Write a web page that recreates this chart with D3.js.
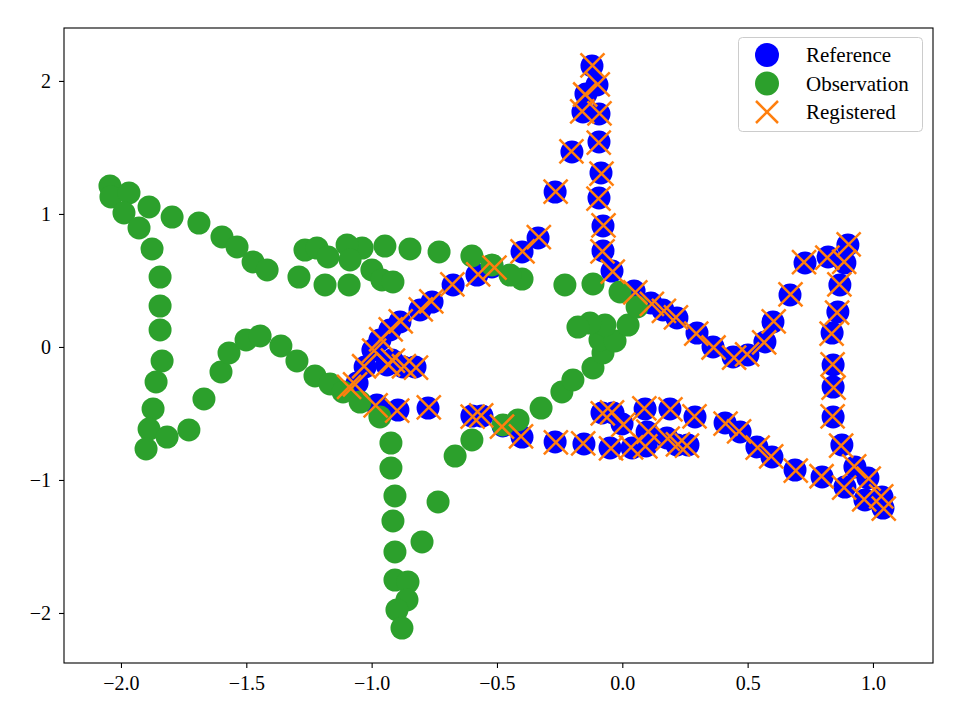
<!DOCTYPE html>
<html lang="en">
  <head>
    <meta charset="utf-8">
    <style>
      body { margin: 0; background: #fff; }
      text { font-family: "Liberation Serif", serif; fill: #000; }
    </style>
  </head>
  <body>
    <svg id="container" width="961" height="721"></svg>
  </body>
  <script src="https://d3js.org/d3.v7.min.js"></script>
  <script>
// reference fish (blue)
let refX = [-0.121, -0.101, -0.145, -0.157, -0.093, -0.093, -0.201, -0.085, -0.268, -0.093,
  -0.077, -0.077, -0.041, 0.047, 0.114, 0.162, 0.218, 0.298, 0.362, 0.442,
  0.501, 0.569, 0.601, 0.669, 0.729, 0.821, 0.900, 0.888, 0.868, 0.860,
  0.837, 0.841, 0.841, 0.841, 0.876, 0.928, 0.980, 1.036, 1.040, 0.968,
  0.888, 0.797, 0.689, 0.597, 0.537, 0.470, 0.410, 0.290, 0.190, 0.091,
  -0.001, -0.037, -0.081, 0.262, 0.218, 0.178, 0.099, 0.095, 0.039, -0.049,
  -0.153, -0.268, -0.400, -0.476, -0.560, -0.600, -0.775, -0.895, -0.979, -1.074,
  -1.058, -1.026, -0.939, -0.875, -0.827, -0.995, -0.967, -0.927, -0.887, -0.807,
  -0.759, -0.675, -0.580, -0.520, -0.400, -0.336, -0.919]
let refY = [2.113, 1.970, 1.902, 1.767, 1.752, 1.541, 1.466, 1.308, 1.165, 1.120,
  0.910, 0.722, 0.571, 0.421, 0.331, 0.278, 0.218, 0.105, 0.000, -0.075,
  -0.060, 0.038, 0.188, 0.391, 0.632, 0.677, 0.767, 0.632, 0.466, 0.263,
  0.105, -0.135, -0.301, -0.526, -0.737, -0.902, -0.985, -1.128, -1.211, -1.150,
  -1.053, -0.977, -0.925, -0.827, -0.752, -0.639, -0.571, -0.526, -0.466, -0.466,
  -0.579, -0.496, -0.496, -0.737, -0.737, -0.684, -0.639, -0.744, -0.759, -0.759,
  -0.729, -0.714, -0.677, -0.594, -0.519, -0.519, -0.459, -0.474, -0.436, -0.323,
  -0.271, -0.150, -0.135, -0.150, -0.150, -0.023, 0.053, 0.128, 0.188, 0.278,
  0.338, 0.466, 0.541, 0.602, 0.714, 0.820, -0.098]

// observed fish (green)
let obsX = [-2.044, -2.040, -1.968, -1.988, -1.888, -1.928, -1.796, -1.689, -1.597, -1.537,
  -1.473, -1.417, -1.876, -1.844, -1.844, -1.844, -1.836, -1.860, -1.872, -1.888,
  -1.900, -1.816, -1.729, -1.669, -1.601, -1.569, -1.501, -1.445, -1.362, -1.298,
  -1.226, -1.166, -1.114, -1.046, -0.967, -0.923, -0.923, -0.907, -0.915, -0.907,
  -0.907, -0.855, -0.859, -0.899, -0.879, -0.735, -0.799, -0.667, -0.600, -0.476,
  -0.416, -0.324, -0.241, -0.197, -0.117, -0.077, -0.089, -0.029, 0.023, -0.069,
  -0.129, -0.177, 0.059, -0.009, -0.117, -0.229, -0.400, -0.448, -0.520, -0.600,
  -0.731, -0.847, -0.947, -1.038, -1.098, -1.086, -0.999, -0.959, -0.915, -1.090,
  -1.186, -1.290, -1.266, -1.218, -1.174]
let obsY = [1.211, 1.128, 1.158, 1.008, 1.053, 0.895, 0.977, 0.932, 0.827, 0.752,
  0.639, 0.579, 0.737, 0.526, 0.308, 0.128, -0.105, -0.263, -0.466, -0.617,
  -0.767, -0.677, -0.624, -0.391, -0.188, -0.045, 0.053, 0.083, 0.008, -0.105,
  -0.218, -0.278, -0.338, -0.414, -0.526, -0.722, -0.910, -1.120, -1.308, -1.541,
  -1.752, -1.767, -1.902, -1.977, -2.113, -1.165, -1.466, -0.820, -0.699, -0.586,
  -0.549, -0.459, -0.338, -0.248, -0.158, -0.045, 0.053, 0.045, 0.165, 0.165,
  0.180, 0.150, 0.301, 0.414, 0.474, 0.466, 0.511, 0.541, 0.617, 0.684,
  0.714, 0.737, 0.759, 0.744, 0.767, 0.654, 0.579, 0.504, 0.489, 0.466,
  0.466, 0.526, 0.729, 0.744, 0.677]

// registered observation (orange)
let regX = [-0.119, -0.098, -0.148, -0.160, -0.091, -0.094, -0.203, -0.083, -0.266, -0.095,
  -0.075, -0.079, -0.038, 0.052, 0.118, 0.166, 0.214, 0.295, 0.364, 0.446,
  0.498, 0.566, 0.604, 0.671, 0.725, 0.818, 0.903, 0.885, 0.866, 0.857,
  0.835, 0.839, 0.843, 0.839, 0.873, 0.925, 0.983, 1.033, 1.043, 0.965,
  0.885, 0.795, 0.692, 0.594, 0.540, 0.466, 0.412, 0.288, 0.192, 0.088,
  0.004, -0.041, -0.078, 0.258, 0.222, 0.181, 0.104, 0.092, 0.035, -0.045,
  -0.156, -0.265, -0.404, -0.480, -0.563, -0.597, -0.772, -0.898, -0.984, -1.090,
  -1.066, -1.030, -0.935, -0.871, -0.823, -0.990, -0.962, -0.924, -0.884, -0.804,
  -0.762, -0.678, -0.575, -0.510, -0.398, -0.333, -0.915]
let regY = [2.117, 1.975, 1.898, 1.772, 1.756, 1.537, 1.470, 1.304, 1.168, 1.116,
  0.914, 0.718, 0.566, 0.411, 0.324, 0.272, 0.222, 0.101, -0.004, -0.080,
  -0.055, 0.034, 0.193, 0.395, 0.637, 0.672, 0.772, 0.640, 0.470, 0.258,
  0.100, -0.131, -0.305, -0.522, -0.742, -0.897, -0.990, -1.124, -1.216, -1.145,
  -1.058, -0.972, -0.930, -0.822, -0.757, -0.634, -0.576, -0.521, -0.470, -0.462,
  -0.584, -0.492, -0.500, -0.741, -0.733, -0.689, -0.636, -0.748, -0.755, -0.763,
  -0.725, -0.718, -0.673, -0.599, -0.515, -0.524, -0.455, -0.478, -0.440, -0.300,
  -0.281, -0.145, -0.130, -0.145, -0.155, -0.028, 0.058, 0.132, 0.193, 0.282,
  0.342, 0.470, 0.545, 0.596, 0.718, 0.825, -0.102]

let xTicks = [-2.0, -1.5, -1.0, -0.5, 0.0, 0.5, 1.0]
let yTicks = [-2, -1, 0, 1, 2]
let seriesNames = ["Reference", "Observation", "Registered"]
let seriesColors = ["#0000ff", "#2ca02c", "#ff7f0e"]

let svg = d3.select("#container")
let plotLeft = 64, plotRight = 933, plotTop = 28, plotBottom = 663

let x = d3.scaleLinear().domain([-2.2273, 1.2395]).range([plotLeft, plotRight])
let y = d3.scaleLinear().domain([-2.376, 2.398]).range([plotBottom, plotTop])

let zip = (xs, ys) => xs.map((v, i) => [v, ys[i]])

// circles
svg.append("g")
    .selectAll("circle")
    .data(zip(refX, refY))
    .enter()
    .append("circle")
        .attr("cx", d => x(d[0]))
        .attr("cy", d => y(d[1]))
        .attr("r", 11.5)
        .attr("fill", seriesColors[0])

svg.append("g")
    .selectAll("circle")
    .data(zip(obsX, obsY))
    .enter()
    .append("circle")
        .attr("cx", d => x(d[0]))
        .attr("cy", d => y(d[1]))
        .attr("r", 11.5)
        .attr("fill", seriesColors[1])

let s = 12
let cross = `M${-s},${-s}L${s},${s}M${-s},${s}L${s},${-s}`

svg.append("g")
    .selectAll("path")
    .data(zip(regX, regY))
    .enter()
    .append("path")
        .attr("transform", d => `translate(${x(d[0])},${y(d[1])})`)
        .attr("d", cross)
        .attr("stroke", seriesColors[2])
        .attr("stroke-width", 2.5)
        .attr("fill", "none")

// axes
svg.append("g")
    .attr("transform", `translate(0,${plotBottom})`)
    .call(d3.axisBottom(x).tickValues(xTicks).tickFormat(d3.format(".1f")).tickSizeOuter(0).tickSize(5).tickPadding(8))
svg.append("g")
    .attr("transform", `translate(${plotLeft},0)`)
    .call(d3.axisLeft(y).tickValues(yTicks).tickFormat(d3.format("d")).tickSizeOuter(0).tickSize(5).tickPadding(8))

svg.selectAll(".domain").remove()
svg.selectAll(".tick line").attr("stroke", "#000").attr("stroke-width", 1.1)
svg.selectAll(".tick text")
    .style("font-family", "'Liberation Serif', serif")
    .style("font-size", "20px")
    .attr("fill", "#000")

svg.append("rect")
    .attr("x", plotLeft).attr("y", plotTop)
    .attr("width", plotRight - plotLeft).attr("height", plotBottom - plotTop)
    .attr("fill", "none")
    .attr("stroke", "#000")
    .attr("stroke-width", 1.1)

// legend
let legend = svg.append("g")
legend.append("rect")
    .attr("x", 738.5).attr("y", 37.5)
    .attr("width", 184).attr("height", 94)
    .attr("rx", 4)
    .attr("fill", "#fff")
    .attr("fill-opacity", 0.8)
    .attr("stroke", "#cccccc")
    .attr("stroke-width", 1)

let rows = [55, 83.5, 112]
seriesNames.forEach((name, i) => {
    if (i < 2) {
        legend.append("circle")
            .attr("cx", 767).attr("cy", rows[i]).attr("r", 12)
            .attr("fill", seriesColors[i])
    } else {
        legend.append("path")
            .attr("transform", `translate(767,${rows[i]})`)
            .attr("d", `M-11,-11L11,11M-11,11L11,-11`)
            .attr("stroke", seriesColors[i])
            .attr("stroke-width", 2.5)
    }
    legend.append("text")
        .attr("x", 806)
        .attr("y", rows[i] + 7)
        .style("font-size", "21px")
        .text(name)
})
  </script>
</html>
